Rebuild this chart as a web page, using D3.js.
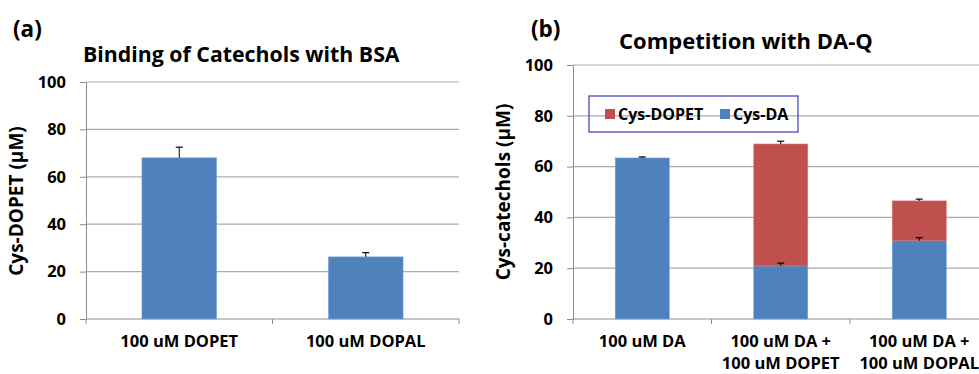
<!DOCTYPE html>
<html>
<head>
<meta charset="utf-8">
<script src="https://cdn.jsdelivr.net/npm/d3@7"></script>
<style>
  body { margin: 0; background: #fff; }
  svg text { font-family: "Open Sans", "Noto Sans", sans-serif; font-weight: 700; fill: #000; }
</style>
</head>
<body>
<svg id="chart" width="979" height="374"></svg>
<script>
// panel (a)
const catsA = ["100 uM DOPET", "100 uM DOPAL"];
const valsA = [68, 26.2];
const errA = [4.5, 1.8];

// panel (b)
const catsB = [["100 uM DA"], ["100 uM DA +", "100 uM DOPET"], ["100 uM DA +", "100 uM DOPAL"]];
const cysDA = [63.4, 20.9, 30.8];
const cysDAErr = [0.4, 1.1, 1.2];
const cysDOPET = [0, 48, 15.7];
const cysDOPETErr = [0, 1.1, 0.7];

const yTicks = [0, 20, 40, 60, 80, 100];
const blue = "#4f81bd", red = "#c0504d";

const svg = d3.select("#chart");

function panel(opts) {
  const g = svg.append("g");
  const y = d3.scaleLinear().domain([0, 100]).range([opts.y0, opts.y1]);
  const x = d3.scaleBand().domain(opts.cats.map((d, i) => i))
    .range([opts.x0, opts.x1]).paddingInner(opts.pad).paddingOuter(opts.pad / 2);

  // gridlines
  g.selectAll(".grid").data(yTicks.filter(t => t > 0)).enter().append("line")
    .attr("x1", opts.x0).attr("x2", opts.x1)
    .attr("y1", d => y(d)).attr("y2", d => y(d))
    .attr("stroke", "#ababab").attr("stroke-width", 1.2);

  // y axis
  const ya = g.append("g").attr("transform", `translate(${opts.x0},0)`)
    .call(d3.axisLeft(y).tickValues(yTicks).tickSize(6).tickPadding(14));
  ya.select(".domain").attr("stroke", "#8c8c8c");
  ya.selectAll(".tick line").attr("stroke", "#8c8c8c");
  ya.selectAll("text").style("font-size", "16.5px");

  // x axis line + boundary ticks
  g.append("line").attr("x1", opts.x0).attr("x2", opts.x1)
    .attr("y1", y(0)).attr("y2", y(0)).attr("stroke", "#8c8c8c");
  g.selectAll(".xt").data(d3.range(opts.cats.length + 1)).enter().append("line")
    .attr("x1", i => opts.x0 + i * x.step()).attr("x2", i => opts.x0 + i * x.step())
    .attr("y1", y(0)).attr("y2", y(0) + 5).attr("stroke", "#8c8c8c");

  // x labels
  opts.cats.forEach((c, i) => {
    const lines = Array.isArray(c) ? c : [c];
    const t = g.append("text").attr("text-anchor", "middle").style("font-size", "16.5px")
      .attr("x", x(i) + x.bandwidth() / 2).attr("y", 347);
    lines.forEach((l, k) => t.append("tspan").attr("x", x(i) + x.bandwidth() / 2)
      .attr("dy", k === 0 ? 0 : 21.5).text(l));
  });

  // y title
  g.append("text").attr("text-anchor", "middle").style("font-size", "19px")
    .attr("transform", `translate(${opts.ytx},${opts.yty}) rotate(-90)`)
    .text(opts.ytitle);

  // title and panel letter
  g.append("text").attr("x", opts.tx).attr("y", opts.ty).style("font-size", opts.tsize).text(opts.title);
  g.append("text").attr("x", opts.lx).attr("y", 37).style("font-size", "22.5px").text(opts.letter);

  return { g, x, y };
}

function errBar(g, cx, yTop, yErr, cap) {
  g.append("line").attr("x1", cx).attr("x2", cx).attr("y1", yTop).attr("y2", yErr)
    .attr("stroke", "#000").attr("stroke-width", 1);
  g.append("line").attr("x1", cx - cap).attr("x2", cx + cap).attr("y1", yErr).attr("y2", yErr)
    .attr("stroke", "#000").attr("stroke-width", 1.2);
}

// ---- panel (a)
const A = panel({
  cats: catsA, x0: 86, x1: 459, y0: 319, y1: 82, pad: 0.6,
  ytitle: "Cys-DOPET (\u03bcM)", ytx: 23, yty: 201,
  title: "Binding of Catechols with BSA", tx: 83, ty: 62, tsize: "21.3px",
  letter: "(a)", lx: 13
});
A.g.selectAll(".bar").data(valsA).enter().append("rect")
  .attr("x", (d, i) => A.x(i)).attr("width", A.x.bandwidth())
  .attr("y", d => A.y(d)).attr("height", d => A.y(0) - A.y(d))
  .attr("fill", blue).attr("stroke", "#7aa0d0").attr("stroke-width", 0.6);
valsA.forEach((v, i) => errBar(A.g, A.x(i) + A.x.bandwidth() / 2, A.y(v), A.y(v + errA[i]), 3.5));

// ---- panel (b)
const B = panel({
  cats: catsB, x0: 573, x1: 988.5, y0: 319, y1: 65, pad: 0.61,
  ytitle: "Cys-catechols (\u03bcM)", ytx: 510, yty: 192,
  title: "Competition with DA-Q", tx: 619, ty: 49, tsize: "22px",
  letter: "(b)", lx: 531
});
B.g.selectAll(".barDA").data(cysDA).enter().append("rect")
  .attr("x", (d, i) => B.x(i)).attr("width", B.x.bandwidth())
  .attr("y", d => B.y(d)).attr("height", d => B.y(0) - B.y(d))
  .attr("fill", blue).attr("stroke", "#7aa0d0").attr("stroke-width", 0.6);
B.g.selectAll(".barDOPET").data(cysDOPET).enter().append("rect")
  .attr("x", (d, i) => B.x(i)).attr("width", B.x.bandwidth())
  .attr("y", (d, i) => B.y(cysDA[i] + d)).attr("height", (d, i) => B.y(cysDA[i]) - B.y(cysDA[i] + d))
  .attr("fill", red).attr("stroke", "#d47c79").attr("stroke-width", 0.6)
  .style("display", d => d > 0 ? null : "none");
cysDA.forEach((v, i) => {
  const cx = B.x(i) + B.x.bandwidth() / 2;
  errBar(B.g, cx, B.y(v), B.y(v + cysDAErr[i]), 3.5);
  if (cysDOPET[i] > 0) {
    const top = v + cysDOPET[i];
    errBar(B.g, cx, B.y(top), B.y(top + cysDOPETErr[i]), 3.5);
  }
});

// legend (no fill, gridline shows through)
const lg = svg.append("g").attr("transform", "translate(589,96)");
lg.append("rect").attr("width", 209).attr("height", 36)
  .attr("fill", "none").attr("stroke", "#3a3ab8").attr("stroke-width", 1.2);
const legItems = [{ name: "Cys-DOPET", color: red, x: 16 }, { name: "Cys-DA", color: blue, x: 131 }];
legItems.forEach(d => {
  lg.append("rect").attr("x", d.x).attr("y", 13).attr("width", 10).attr("height", 10).attr("fill", d.color);
  lg.append("text").attr("x", d.x + 13).attr("y", 24).style("font-size", "16px").text(d.name);
});
</script>
</body>
</html>
